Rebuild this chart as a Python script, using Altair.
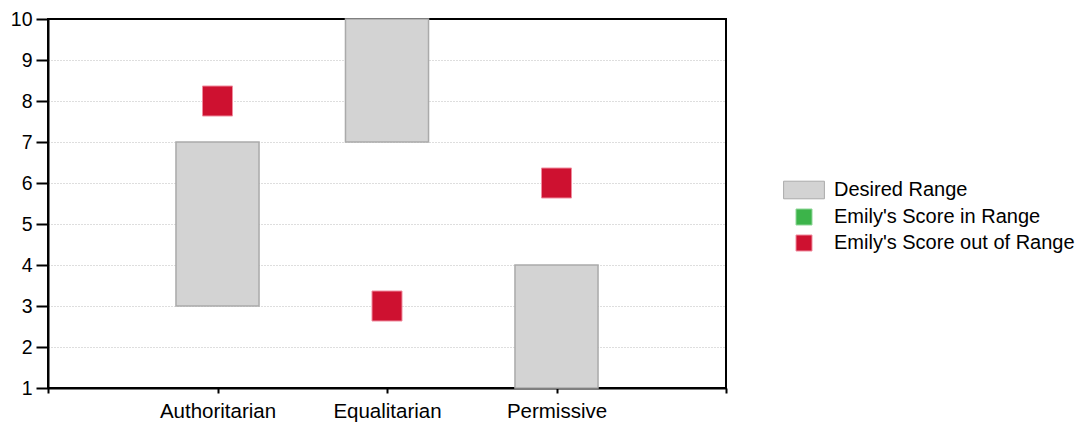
import altair as alt
import pandas as pd

categories = ["Authoritarian", "Equalitarian", "Permissive"]
range_low = [3, 7, 1]
range_high = [7, 10, 4]
scores = [8, 3, 6]
series = ["Desired Range", "Emily's Score in Range", "Emily's Score out of Range"]
fills = ["#d3d3d3", "#3cb44a", "#ce1130"]
strokes = ["#aaaaaa", "#8fd698", "#ef8c9e"]
y_ticks = list(range(1, 11))

pos = [i + 1 for i in range(len(categories))]
df = pd.DataFrame({
    "category": categories,
    "pos": pos,
    "low": range_low,
    "high": range_high,
    "score": scores,
})
df["band"] = series[0]
df["status"] = [series[1] if lo <= s <= hi else series[2]
                for lo, s, hi in zip(range_low, scores, range_high)]

label_expr = " : ".join(
    [f"datum.value == {p} ? '{c}'" for p, c in zip(pos, categories)]
) + " : ''"

rect_path = "M-2.55,-1.1H2.55V1.1H-2.55Z"

color_scale = alt.Scale(domain=series, range=fills)
stroke_scale = alt.Scale(domain=series, range=strokes)
shape_scale = alt.Scale(domain=series, range=[rect_path, "square", "square"])

legend = alt.Legend(
    title=None, orient="none", legendX=746, legendY=161,
    labelFontSize=20, labelFont="Liberation Sans", labelColor="#000000",
    labelLimit=0, symbolSize=256, labelOffset=20, rowPadding=6,
    symbolStrokeWidth=1,
)

x_axis = alt.Axis(
    title=None, values=[0] + pos + [len(categories) + 1],
    labelExpr=label_expr, grid=False, tickSize=5,
    labelPadding=8, labelAngle=0, labelFontSize=20.5,
)
x_scale = alt.Scale(domain=[0, len(categories) + 1], nice=False, zero=False)
y_scale = alt.Scale(domain=[1, 10], nice=False, zero=False)
y_axis = alt.Axis(
    title=None, values=y_ticks, grid=True, gridDash=[1, 2],
    gridColor={"condition": {"test": "datum.value == 1 || datum.value == 10",
                             "value": "transparent"},
               "value": "#bdbdbd"},
    gridWidth=1.2, tickSize=12, labelPadding=4, labelFontSize=19.5,
)

bars = alt.Chart(df).transform_calculate(
    x0="datum.pos - 0.245", x1="datum.pos + 0.245"
).mark_rect(strokeWidth=1.5).encode(
    x=alt.X("x0:Q", scale=x_scale, axis=x_axis),
    x2="x1:Q",
    y=alt.Y("low:Q", scale=y_scale, axis=y_axis),
    y2="high:Q",
    color=alt.Color("band:N", scale=color_scale, legend=legend),
    stroke=alt.Stroke("band:N", scale=stroke_scale, legend=legend),
)

points = alt.Chart(df).transform_calculate(
    x0="datum.pos"
).mark_point(filled=True, size=900, opacity=1, strokeWidth=1).encode(
    x=alt.X("x0:Q", scale=x_scale, axis=x_axis),
    y=alt.Y("score:Q", scale=y_scale, axis=y_axis),
    color=alt.Color("status:N", scale=color_scale, legend=legend),
    stroke=alt.Stroke("status:N", scale=stroke_scale, legend=legend),
    shape=alt.Shape("status:N", scale=shape_scale, legend=legend),
)

chart = alt.layer(bars, points).properties(
    width=678, height=369,
    background="#ffffff",
    autosize=alt.AutoSizeParams(type="none"),
    padding={"left": 40, "top": 11, "right": 357, "bottom": 36},
).configure_view(
    stroke="#000000", strokeWidth=2
).configure_axis(
    domainColor="#000000", domainWidth=2, tickColor="#000000", tickWidth=2,
    labelFont="Liberation Sans", labelColor="#000000",
)

chart.save("out.html", embed_options={"renderer": "svg", "actions": False})
